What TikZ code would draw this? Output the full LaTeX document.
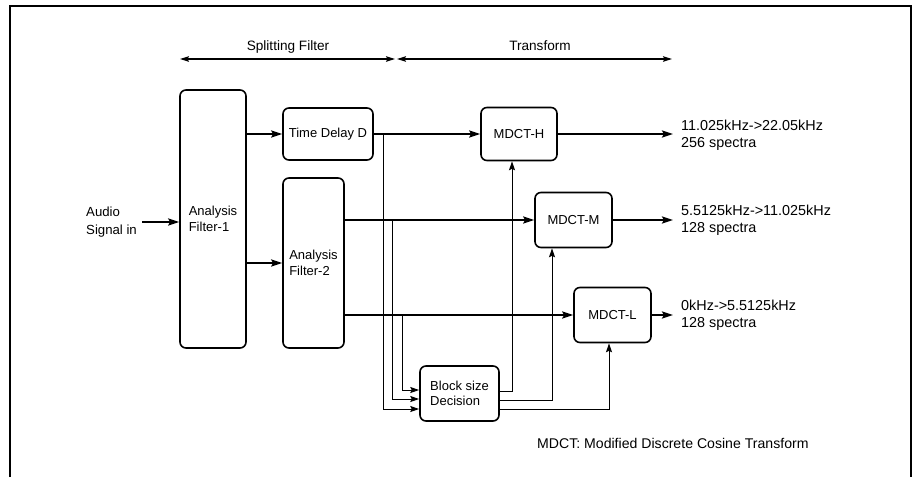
\documentclass[tikz,border=0pt]{standalone}
\usepackage{fontspec}
\setmainfont{Liberation Sans}
\usetikzlibrary{arrows.meta,calc}
\begin{document}
\begin{tikzpicture}[x=1pt,y=-1pt,
 blk/.style={draw, line width=1.6pt, rounded corners=6pt, inner sep=0pt, font=\fontsize{13}{15.5}\selectfont, align=left},
 thk/.style={line width=2.2pt, -{Stealth[length=11pt,width=7pt,inset=2pt]}},
 thn/.style={line width=1pt, -{Stealth[length=9pt,width=6pt,inset=1.5pt]}},
 hdr/.style={line width=1.3pt, {Stealth[length=9pt,width=5.5pt,inset=1.5pt]}-{Stealth[length=9pt,width=5.5pt,inset=1.5pt]}},
 lbl/.style={font=\fontsize{14.4}{17}\selectfont, align=left, anchor=west, inner sep=0pt},
 hlbl/.style={font=\fontsize{13.6}{16}\selectfont, inner sep=0pt}]
\useasboundingbox (0,0) rectangle (918,477);
\fill[white] (0,0) rectangle (918,477);
\draw[line width=1.2pt] (10,477) -- (10,6) -- (911,6) -- (911,477);

% header
\coordinate (h1) at (180,59);
\coordinate (h2) at (395,59);
\coordinate (h3) at (397,59);
\coordinate (h4) at (672,59);
\draw[hdr] (h1) -- (h2);
\draw[hdr] (h3) -- (h4);
\node[hlbl] (sf) at (288,47) {Splitting Filter};
\node[hlbl] (tf) at (540,46) {Transform};

% blocks
\node[blk, minimum width=66, minimum height=258] (af1) at (213,219) {Analysis\\Filter-1};
\node[blk, minimum width=90, minimum height=52] (tdd) at (328,134) {Time Delay D};
\node[blk, minimum width=61, minimum height=170] (af2) at (313.5,263) {Analysis\\Filter-2};
\node[blk, minimum width=76, minimum height=53] (mh) at (519,134) {MDCT-H};
\node[blk, minimum width=77, minimum height=55] (mm) at (573.5,220) {MDCT-M};
\node[blk, minimum width=77, minimum height=55] (ml) at (612.5,315) {MDCT-L};
\node[blk, minimum width=79, minimum height=55] (bsd) at (459.5,393.5) {Block size\\Decision};

% input
\node[font=\fontsize{13.2}{17.5}\selectfont, align=left, anchor=west, inner sep=0pt] (aud) at (86,222) {Audio\\Signal in};
\coordinate (ain) at (142,222);
\draw[thk] (ain) -- (ain -| af1.west);

% main paths
\draw[thk] (af1.east |- tdd.west) -- (tdd.west);
\draw[thk] (af1.east |- af2.west) -- (af2.west);
\draw[thk] (tdd.east) -- (mh.west);
\draw[thk] (af2.east |- mm.west) -- (mm.west);
\draw[thk] (af2.east |- ml.west) -- (ml.west);

% outputs
\node[lbl] (lh) at (681,135) {11.025kHz->22.05kHz\\256 spectra};
\node[lbl] (lm) at (681,220.5) {5.5125kHz->11.025kHz\\128 spectra};
\node[lbl] (ll) at (681,315) {0kHz->5.5125kHz\\128 spectra};
\coordinate (oh) at ($(lh.west |- mh.east)+(-8,0)$);
\coordinate (om) at ($(lm.west |- mm.east)+(-8,0)$);
\coordinate (ol) at ($(ll.west |- ml.east)+(-8,0)$);
\draw[thk] (mh.east) -- (oh);
\draw[thk] (mm.east) -- (om);
\draw[thk] (ml.east) -- (ol);

% block size decision inputs
\coordinate (j1) at ($(tdd.east)+(10,0)$);
\coordinate (j2) at ($(af2.east |- mm.west)+(48,0)$);
\coordinate (j3) at ($(af2.east |- ml.west)+(58,0)$);
\draw[thn] (j1) |- ([yshift=-15.5]bsd.west);
\draw[thn] (j2) |- ([yshift=-5.5]bsd.west);
\draw[thn] (j3) |- ([yshift=3.5]bsd.west);

% block size decision outputs
\draw[thn] ([yshift=2.5]bsd.east) -| ([xshift=-7]mh.south);
\draw[thn] ([yshift=-6.5]bsd.east) -| ([xshift=-21.5]mm.south);
\draw[thn] ([yshift=-15.5]bsd.east) -| ([xshift=-3.5]ml.south);

% note
\node[font=\fontsize{14.1}{17}\selectfont, anchor=west, inner sep=0pt] (note) at (537,443) {MDCT: Modified Discrete Cosine Transform};
\end{tikzpicture}
\end{document}
